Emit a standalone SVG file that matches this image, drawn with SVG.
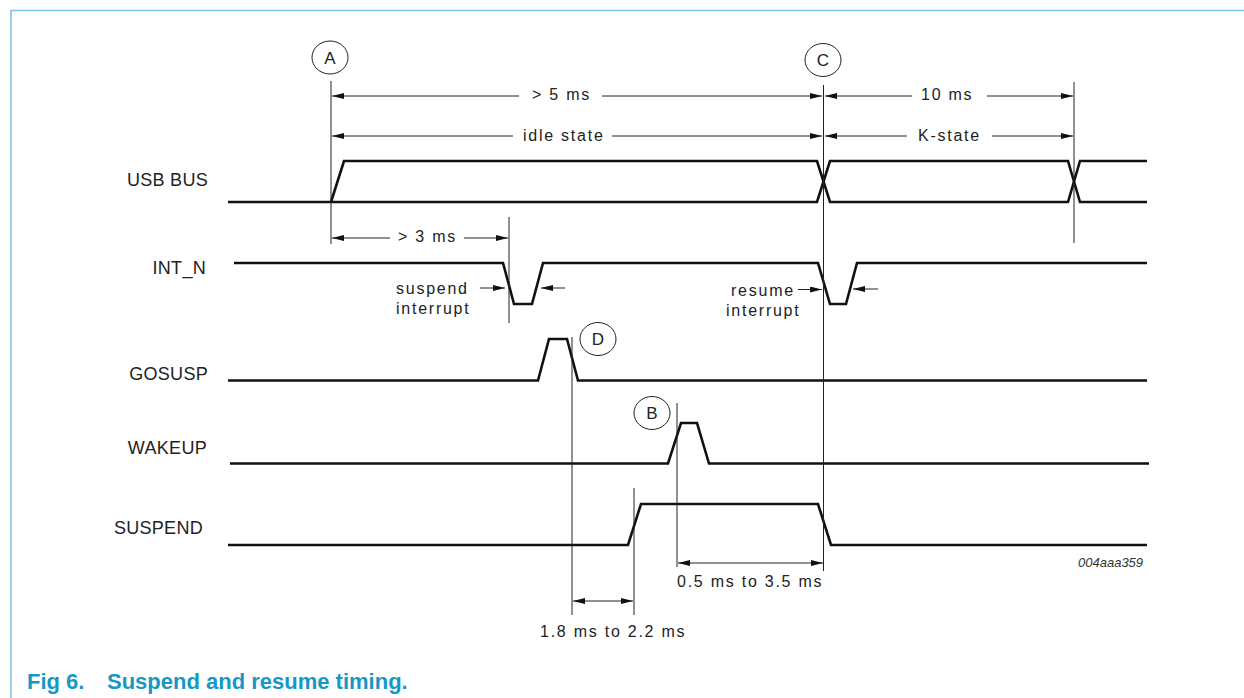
<svg xmlns="http://www.w3.org/2000/svg" width="1244" height="698" viewBox="0 0 1244 698">
<defs>
<style>
.sig{fill:none;stroke:#111;stroke-width:2.6;stroke-linejoin:miter}
.thin{fill:none;stroke:#222;stroke-width:1}
.dim{fill:none;stroke:#222;stroke-width:1;marker-end:url(#ah)}
.dim2{fill:none;stroke:#222;stroke-width:1;marker-start:url(#ah);marker-end:url(#ah)}
.lbl{font-family:"Liberation Sans",Arial,sans-serif;font-size:18px;fill:#222;text-anchor:end;letter-spacing:0.3px}
.dt{font-family:"Liberation Sans",Arial,sans-serif;font-size:16px;fill:#222;letter-spacing:1.75px}
.circ{fill:#fff;stroke:#222;stroke-width:1}
.ct{font-family:"Liberation Sans",Arial,sans-serif;font-size:17px;fill:#222;text-anchor:middle}
.cap{font-family:"Liberation Sans",Arial,sans-serif;font-size:22px;font-weight:bold;fill:#1798c4}
</style>
<marker id="ah" viewBox="0 0 12 6" refX="12" refY="3" markerWidth="12" markerHeight="6" markerUnits="userSpaceOnUse" orient="auto-start-reverse">
<path d="M0,0 L12,3 L0,6 z" fill="#111"/>
</marker>
</defs>
<rect width="1244" height="698" fill="#fff"/>
<path d="M11,698 L11,10.5 L1244,10.5" fill="none" stroke="#7cc8df" stroke-width="1.6"/>

<g id="markers">
<g id="mark-A"><ellipse class="circ" cx="330" cy="57.5" rx="18" ry="16.5"/><text class="ct" x="330" y="63.5">A</text></g>
<g id="mark-C"><ellipse class="circ" cx="823" cy="60" rx="18" ry="16.5"/><text class="ct" x="823" y="66">C</text></g>
<g id="mark-D"><ellipse class="circ" cx="598" cy="339" rx="18" ry="16.5"/><text class="ct" x="598" y="345">D</text></g>
<g id="mark-B"><ellipse class="circ" cx="652" cy="413" rx="18" ry="16.5"/><text class="ct" x="652" y="419">B</text></g>
</g>

<g id="signals">
<g id="sig-usbbus">
<text class="lbl" x="208" y="186">USB BUS</text>
<path class="sig" d="M228,202 L817,202 L830,161 L1068,161 L1080,202 L1147,202"/>
<path class="sig" d="M331,202 L344,161 L817,161 L830,202 L1068,202 L1080,161 L1147,161"/>
</g>
<g id="sig-intn">
<text class="lbl" x="206" y="274">INT_N</text>
<path class="sig" d="M234,263 L503,263 L514,304 L532,304 L543,263 L818,263 L830,304 L846,304 L857,263 L1147,263"/>
</g>
<g id="sig-gosusp">
<text class="lbl" x="208" y="380">GOSUSP</text>
<path class="sig" d="M228,380.5 L538,380.5 L549,339 L567,339 L578,380.5 L1147,380.5"/>
</g>
<g id="sig-wakeup">
<text class="lbl" x="207" y="454">WAKEUP</text>
<path class="sig" d="M230,463.5 L668,463.5 L681,423 L697,423 L709,463.5 L1149,463.5"/>
</g>
<g id="sig-suspend">
<text class="lbl" x="203" y="534">SUSPEND</text>
<path class="sig" d="M228,545 L628,545 L641,504 L818,504 L831,545 L1147,545"/>
</g>
</g>

<g id="connectors">
<line class="thin" x1="331" y1="81" x2="331" y2="244"/>
<line class="thin" x1="823.5" y1="85" x2="823.5" y2="571"/>
<line class="thin" x1="1074" y1="82" x2="1074" y2="243"/>
<line class="thin" x1="509" y1="217" x2="509" y2="323"/>
<line class="thin" x1="572" y1="337" x2="572" y2="615"/>
<line class="thin" x1="677" y1="403" x2="677" y2="567"/>
<line class="thin" x1="634" y1="488" x2="634" y2="615"/>

<line class="dim" x1="519" y1="96" x2="332" y2="96"/>
<line class="dim" x1="602" y1="96" x2="822" y2="96"/>
<line class="dim" x1="513" y1="136" x2="332" y2="136"/>
<line class="dim" x1="612" y1="136" x2="822" y2="136"/>
<line class="dim" x1="912" y1="96" x2="825" y2="96"/>
<line class="dim" x1="987" y1="96" x2="1073" y2="96"/>
<line class="dim" x1="907" y1="136" x2="825" y2="136"/>
<line class="dim" x1="992" y1="136" x2="1073" y2="136"/>
<line class="dim" x1="390" y1="238" x2="332" y2="238"/>
<line class="dim" x1="464" y1="238" x2="508" y2="238"/>
<line class="dim" x1="480" y1="288" x2="505" y2="288"/>
<line class="dim" x1="565" y1="288" x2="541" y2="288"/>
<line class="dim" x1="798" y1="289.5" x2="822" y2="289.5"/>
<line class="dim" x1="878" y1="289" x2="853" y2="289"/>
<line class="dim2" x1="573" y1="601" x2="633" y2="601"/>
<line class="dim2" x1="678" y1="563" x2="823" y2="563"/>

<text class="dt" x="532" y="100">&gt; 5 ms</text>
<text class="dt" x="523" y="140.5">idle state</text>
<text class="dt" x="921" y="100">10 ms</text>
<text class="dt" x="918" y="141">K-state</text>
<text class="dt" x="398" y="242">&gt; 3 ms</text>
<text class="dt" x="396" y="294">suspend</text>
<text class="dt" x="396" y="314">interrupt</text>
<text class="dt" x="731" y="296">resume</text>
<text class="dt" x="726" y="316">interrupt</text>
<text class="dt" x="540" y="637">1.8 ms to 2.2 ms</text>
<text class="dt" x="677" y="587">0.5 ms to 3.5 ms</text>
</g>

<text x="1078" y="567" font-family="Liberation Sans, Arial, sans-serif" font-size="13" font-style="italic" fill="#333">004aaa359</text>
<text class="cap" x="27" y="689">Fig 6.</text>
<text class="cap" x="107" y="689">Suspend and resume timing.</text>
</svg>
